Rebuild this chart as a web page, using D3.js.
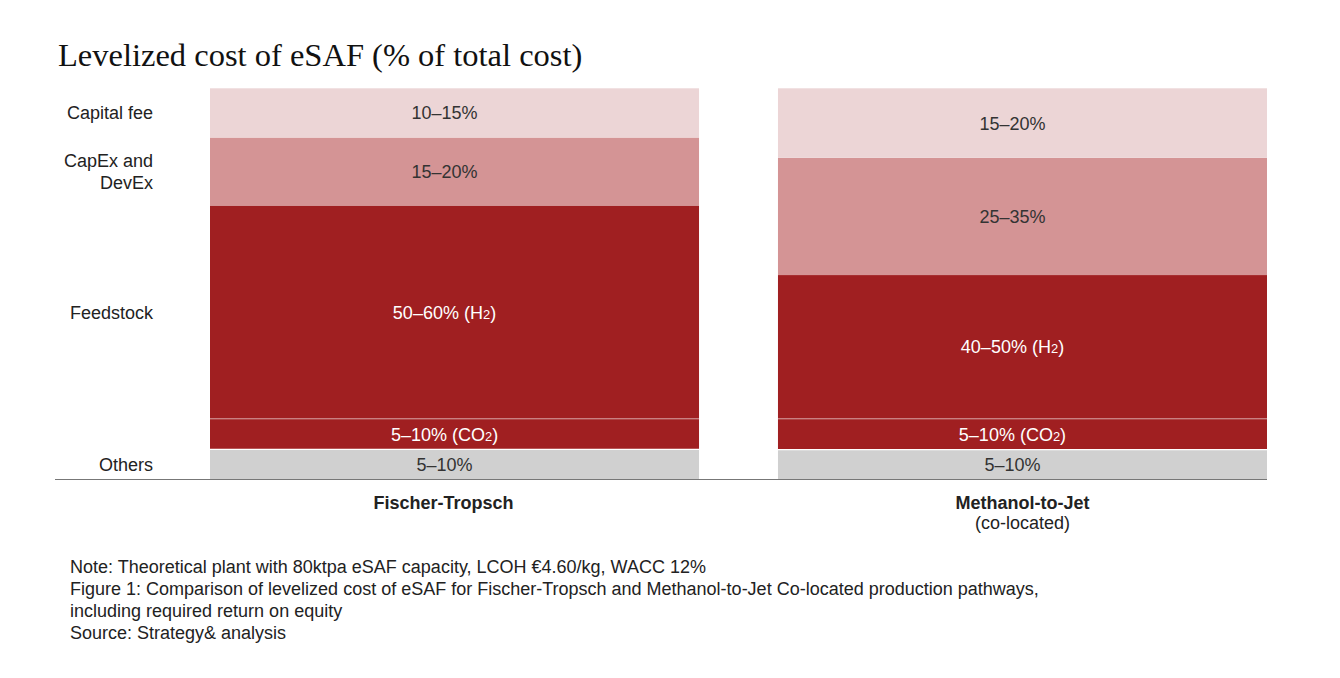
<!DOCTYPE html>
<html>
<head>
<meta charset="utf-8">
<script src="https://cdn.jsdelivr.net/npm/d3@7"></script>
<style>
  body { margin: 0; background: #fff; }
  svg { display: block; }
</style>
</head>
<body>
<svg id="chart" width="1340" height="678"></svg>
<script>
// categories and stacked segments (bottom to top)
const categories = ["Fischer-Tropsch", "Methanol-to-Jet"];
const subtitles = ["", "(co-located)"];
const segments = ["Others", "CO2", "H2", "CapEx and DevEx", "Capital fee"];

// estimated share of the bar height, bottom to top
const ftShares = [7.6, 7.8, 54.6, 17.4, 12.6];
const mtjShares = [7.5, 7.9, 36.8, 30.0, 17.8];

// labels printed in each segment
const ftLabels = ["5–10%", "5–10% (CO₂)", "50–60% (H₂)", "15–20%", "10–15%"];
const mtjLabels = ["5–10%", "5–10% (CO₂)", "40–50% (H₂)", "25–35%", "15–20%"];

// row labels on the left: [text lines, segment they sit beside]
const rowLabels = [
  [["Capital fee"], "Capital fee"],
  [["CapEx and", "DevEx"], "CapEx and DevEx"],
  [["Feedstock"], "H2"],
  [["Others"], "Others"]
];

const notes = [
  "Note: Theoretical plant with 80ktpa eSAF capacity, LCOH €4.60/kg, WACC 12%",
  "Figure 1: Comparison of levelized cost of eSAF for Fischer-Tropsch and Methanol-to-Jet Co-located production pathways,",
  "including required return on equity",
  "Source: Strategy& analysis"
];

const colors = {
  "Others": "#d0d0d0",
  "CO2": "#a01f21",
  "H2": "#a01f21",
  "CapEx and DevEx": "#d49495",
  "Capital fee": "#ecd5d6"
};
const darkSegs = ["CO2", "H2"];

const svg = d3.select("#chart");
const font = "'Liberation Sans', Arial, sans-serif";
const fs = 18;

const table = categories.map((c, i) => {
  const row = { category: c };
  const vals = i === 0 ? ftShares : mtjShares;
  segments.forEach((s, j) => row[s] = vals[j]);
  return row;
});
const labelsFor = [ftLabels, mtjLabels];

const x = d3.scaleBand()
  .domain(categories)
  .range([210, 1267])
  .paddingInner(0.139)
  .paddingOuter(0);

const y = d3.scaleLinear()
  .domain([0, 100])
  .range([479, 88.3]);

const stack = d3.stack().keys(segments);
const series = stack(table);

// title
svg.append("text")
  .attr("x", 58)
  .attr("y", 66)
  .attr("font-family", "'Liberation Serif', 'DejaVu Serif', serif")
  .attr("font-size", 32.5)
  .attr("fill", "#111")
  .text("Levelized cost of eSAF (% of total cost)");

const layers = svg.append("g").selectAll("g")
  .data(series)
  .join("g")
  .attr("fill", d => colors[d.key]);

layers.selectAll("rect")
  .data(d => d)
  .join("rect")
  .attr("x", d => x(d.data.category))
  .attr("width", x.bandwidth())
  .attr("y", d => y(d[1]))
  .attr("height", d => y(d[0]) - y(d[1]));

// thin dividers: inside feedstock and above others
categories.forEach(c => {
  const s = series.find(d => d.key === "CO2").find(v => v.data.category === c);
  svg.append("line")
    .attr("x1", x(c)).attr("x2", x(c) + x.bandwidth())
    .attr("y1", y(s[1])).attr("y2", y(s[1]))
    .attr("stroke", "rgba(255,255,255,0.35)")
    .attr("stroke-width", 1.5);
  svg.append("line")
    .attr("x1", x(c)).attr("x2", x(c) + x.bandwidth())
    .attr("y1", y(s[0])).attr("y2", y(s[0]))
    .attr("stroke", "#fff")
    .attr("stroke-width", 1.2);
});

// segment labels, with a small "2" for the chemical formulas
function addLabel(sel, txt, size) {
  const parts = txt.split("₂");
  parts.forEach((p, i) => {
    sel.append("tspan").text(p);
    if (i < parts.length - 1) {
      sel.append("tspan").attr("font-size", size * 0.72).text("2");
    }
  });
}

series.forEach((s, j) => {
  s.forEach((v, i) => {
    const t = svg.append("text")
      .attr("x", x(v.data.category) + x.bandwidth() / 2 - 10)
      .attr("y", (y(v[0]) + y(v[1])) / 2 + 6.5)
      .attr("text-anchor", "middle")
      .attr("font-family", font)
      .attr("font-size", fs)
      .attr("fill", darkSegs.includes(s.key) ? "#fff" : "#333");
    addLabel(t, labelsFor[i][j], fs);
  });
});

// baseline
svg.append("line")
  .attr("x1", 55).attr("x2", 1267)
  .attr("y1", y(0) + 0.5).attr("y2", y(0) + 0.5)
  .attr("stroke", "#777")
  .attr("stroke-width", 1.2);

// row labels on the left, beside first bar
rowLabels.forEach(([lines, key]) => {
  const v = series.find(d => d.key === key)[0];
  const mid = (y(v[0]) + y(v[1])) / 2;
  const t = svg.append("text")
    .attr("text-anchor", "end")
    .attr("font-family", font)
    .attr("font-size", fs)
    .attr("fill", "#222");
  lines.forEach((l, k) => {
    t.append("tspan")
      .attr("x", 153)
      .attr("y", mid + 6.5 + (k - (lines.length - 1) / 2) * 22)
      .text(l);
  });
});

// category labels
categories.forEach((c, i) => {
  const cx = x(c) + x.bandwidth() / 2 - (i === 0 ? 11 : 0);
  svg.append("text")
    .attr("x", cx).attr("y", 508.5)
    .attr("text-anchor", "middle")
    .attr("font-family", font)
    .attr("font-size", fs)
    .attr("font-weight", "bold")
    .attr("fill", "#222")
    .text(c);
  if (subtitles[i]) {
    svg.append("text")
      .attr("x", cx).attr("y", 528.5)
      .attr("text-anchor", "middle")
      .attr("font-family", font)
      .attr("font-size", fs)
      .attr("fill", "#222")
      .text(subtitles[i]);
  }
});

// notes
svg.append("g").selectAll("text")
  .data(notes)
  .join("text")
  .attr("x", 70)
  .attr("y", (d, i) => 573 + i * 22)
  .attr("font-family", font)
  .attr("font-size", fs)
  .attr("fill", "#222")
  .text(d => d);
</script>
</body>
</html>
